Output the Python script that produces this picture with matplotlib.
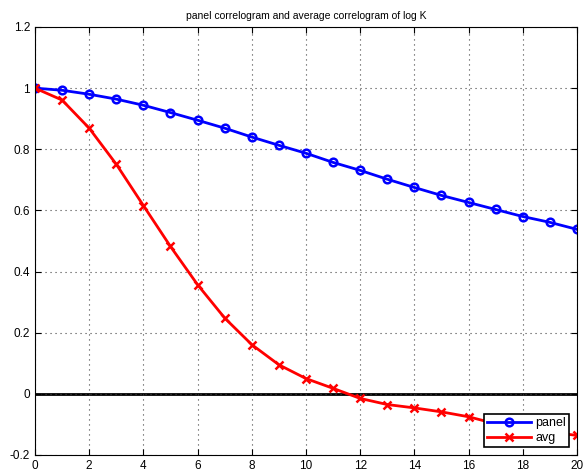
import numpy as np
import matplotlib
matplotlib.use('Agg')
import matplotlib.pyplot as plt

plt.rcParams['font.family'] = ['Liberation Sans', 'DejaVu Sans']

# lags and the two correlograms
lags = np.arange(0, 21)
panel = [1.0, 0.993, 0.98, 0.964, 0.944, 0.92, 0.895, 0.869, 0.84, 0.813, 0.787,
         0.757, 0.731, 0.702, 0.675, 0.649, 0.626, 0.603, 0.58, 0.561, 0.538]
avg = [1.0, 0.961, 0.869, 0.751, 0.616, 0.482, 0.357, 0.248, 0.161, 0.095, 0.05,
       0.018, -0.015, -0.035, -0.046, -0.059, -0.075, -0.098, -0.111, -0.125, -0.136]

fig = plt.figure(figsize=(5.83, 4.71), dpi=100)
ax = fig.add_axes([0.060, 0.034, 0.9297, 0.9087])

ax.plot(lags, panel, color='blue', lw=2, marker='o', ms=5.5, mfc='none', mew=1.8, label='panel')
ax.plot(lags, avg, color='red', lw=2, marker='x', ms=5.5, mew=1.8, label='avg')
ax.axhline(0, color='black', lw=2, zorder=1)

ax.set_xlim(0, 20)
ax.set_ylim(-0.2, 1.2)
ax.set_xticks(np.arange(0, 21, 2))
ax.set_yticks(np.arange(-0.2, 1.21, 0.2))
ax.set_yticklabels(['-0.2', '0', '0.2', '0.4', '0.6', '0.8', '1', '1.2'])
ax.tick_params(direction='in', labelsize=8.5, top=True, right=True, length=4)
ax.grid(True, linestyle=(0, (1, 3.5)), color='#444444', lw=0.8)
ax.set_title('panel correlogram and average correlogram of log K', fontsize=7.5, pad=6)

leg = ax.legend(loc='lower right', fontsize=9, fancybox=False, edgecolor='black',
                framealpha=1, borderaxespad=0.6, handlelength=3.5, borderpad=0.25,
                labelspacing=0.25, handletextpad=0.4)
leg.get_frame().set_linewidth(1.2)

fig.savefig('out.png', dpi=100)
